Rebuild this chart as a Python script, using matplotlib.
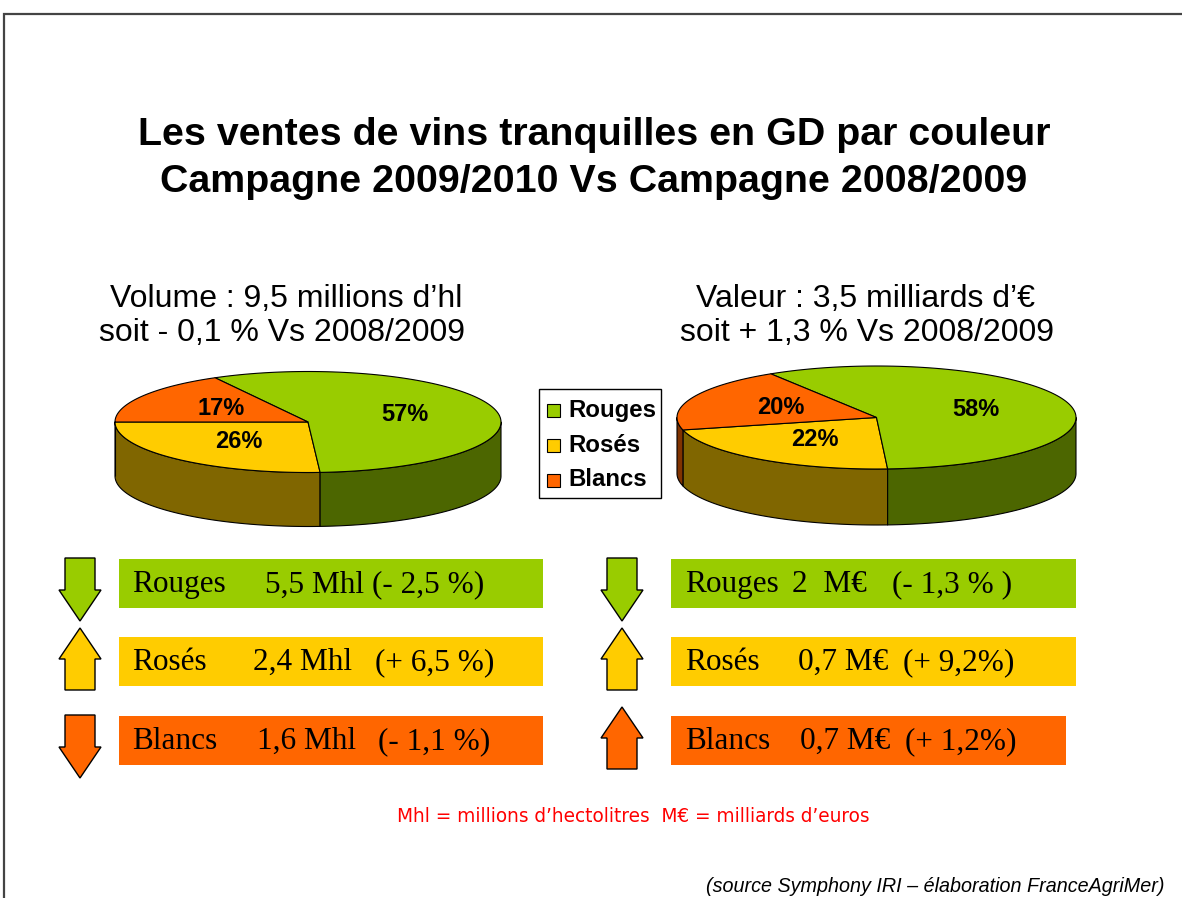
import numpy as np
import matplotlib
matplotlib.use("Agg")
import matplotlib.pyplot as plt
from matplotlib.patches import Polygon, Rectangle

# ---------------- data ----------------
categories = ["Rouges", "Rosés", "Blancs"]
volume_share = [57, 26, 17]          # % of volume
value_share = [58, 22, 20]           # % of value
volume_amount = ["5,5 Mhl", "2,4 Mhl", "1,6 Mhl"]
volume_change_txt = ["(- 2,5 %)", "(+ 6,5 %)", "(- 1,1 %)"]
volume_change = [-2.5, 6.5, -1.1]
value_amount = ["2  M€", "0,7 M€", "0,7 M€"]
value_change_txt = ["(- 1,3 % )", "(+ 9,2%)", "(+ 1,2%)"]
value_change = [-1.3, 9.2, 1.2]

title_lines = ["Les ventes de vins tranquilles en GD par couleur",
               "Campagne 2009/2010 Vs Campagne 2008/2009"]
vol_sub = ["Volume : 9,5 millions d\u2019hl", "soit - 0,1 % Vs 2008/2009"]
val_sub = ["Valeur : 3,5 milliards d\u2019\u20ac", "soit + 1,3 % Vs 2008/2009"]
footnote = "Mhl = millions d\u2019hectolitres  M\u20ac = milliards d\u2019euros"
source = "(source Symphony IRI \u2013 élaboration FranceAgriMer)"

# ---------------- style ----------------
colors = ["#99CC00", "#FFCC00", "#FF6600"]
side_colors = ["#4C6600", "#806600", "#803300"]
SANS = "Liberation Sans"
SERIF = "Liberation Serif"
BOX_FS = 22.5
SUB_FS = 23

W, H = 1182, 898
fig = plt.figure(figsize=(W / 100, H / 100), dpi=100)
ax = fig.add_axes([0, 0, 1, 1])
ax.set_xlim(0, W)
ax.set_ylim(H, 0)
ax.axis("off")

# frame
ax.plot([4, 4, W + 5], [H + 5, 13.5, 13.5], color="#444444", lw=1.6,
        solid_joinstyle="miter", clip_on=False)

# title
ax.text(594, 135, title_lines[0], ha="center", va="center", fontsize=28.4,
        fontweight="bold", family=SANS)
ax.text(594, 182, title_lines[1], ha="center", va="center", fontsize=28.4,
        fontweight="bold", family=SANS)

# subtitles
ax.text(286, 299, vol_sub[0], ha="center", va="center", fontsize=SUB_FS, family=SANS)
ax.text(282, 333, vol_sub[1], ha="center", va="center", fontsize=SUB_FS, family=SANS)
ax.text(866, 299, val_sub[0], ha="center", va="center", fontsize=SUB_FS, family=SANS)
ax.text(867, 333, val_sub[1], ha="center", va="center", fontsize=SUB_FS, family=SANS)


def arc(cx, cy, a, b, t1, t2, dy=0.0, n=120):
    t = np.radians(np.linspace(t1, t2, n))
    return np.column_stack([cx + a * np.cos(t), cy + dy - b * np.sin(t)])


def pie3d(shares, cx, cy, a, b, depth, start):
    # angles: Rosés starts at `start`, counter-clockwise: Rosés, Rouges, Blancs
    order = [1, 0, 2]
    t = start
    spans = {}
    for i in order:
        span = shares[i] * 3.6
        spans[i] = (t, t + span)
        t += span
    # side walls (front half: 180..360 deg, mod 360)
    for i in order:
        t1, t2 = spans[i]
        for k in (0, 360, -360):
            lo = max(t1 + k, 180)
            hi = min(t2 + k, 360)
            if hi > lo:
                top = arc(cx, cy, a, b, lo, hi)
                bot = arc(cx, cy, a, b, hi, lo, dy=depth)
                ax.add_patch(Polygon(np.vstack([top, bot]), closed=True,
                                     facecolor=side_colors[i], edgecolor="black",
                                     lw=0.8, joinstyle="round"))
    # top faces
    for i in order:
        t1, t2 = spans[i]
        pts = np.vstack([[cx, cy], arc(cx, cy, a, b, t1, t2)])
        ax.add_patch(Polygon(pts, closed=True, facecolor=colors[i],
                             edgecolor="black", lw=0.8, joinstyle="round"))
    # labels
    for i in order:
        t1, t2 = spans[i]
        m = np.radians((t1 + t2) / 2)
        ax.text(cx + 0.52 * a * np.cos(m), cy - 0.52 * b * np.sin(m),
                f"{shares[i]}%", ha="center", va="center", fontsize=17,
                fontweight="bold", family=SANS)


pie3d(volume_share, 308, 422, 193, 50.5, 54, 180)
pie3d(value_share, 876.5, 417.5, 199.5, 51.5, 56, 194)

# legend
ax.add_patch(Rectangle((538.5, 388.5), 122, 109, facecolor="white",
                       edgecolor="black", lw=1.0))
for k, name in enumerate(categories):
    y = 410 + 35 * k
    ax.add_patch(Rectangle((547, y - 6.5), 13, 13, facecolor=colors[k],
                           edgecolor="black", lw=0.8))
    ax.text(568, y, name, ha="left", va="center", fontsize=17.3,
            fontweight="bold", family=SANS)


def arrow(xc, y0, y1, color, up):
    # y0 = top, y1 = bottom in pixel coordinates
    hw, sw = 21, 15
    hl = 31
    if up:
        pts = [(xc, y0), (xc + hw, y0 + hl), (xc + sw, y0 + hl), (xc + sw, y1),
               (xc - sw, y1), (xc - sw, y0 + hl), (xc - hw, y0 + hl)]
    else:
        pts = [(xc - sw, y0), (xc + sw, y0), (xc + sw, y1 - hl), (xc + hw, y1 - hl),
               (xc, y1), (xc - hw, y1 - hl), (xc - sw, y1 - hl)]
    ax.add_patch(Polygon(pts, closed=True, facecolor=color, edgecolor="black",
                         lw=1.0, joinstyle="miter"))


def trend_arrow(xc, yt, change, color):
    if change > 0:
        arrow(xc, yt - 9, yt + 53, color, True)
    else:
        arrow(xc, yt - 1, yt + 62, color, False)


box_tops = [559, 637, 716]
box_h = 49
left_box = (119, 543)
right_box_x = 671
right_box_w = [405, 405, 395]
name_x_left, name_x_right = 132, 685
amount_x_left = [265, 253, 257]
amount_x_right = [792, 798, 800]
change_x_left = [None, 375, 378]
change_x_right = [892, 903, 905]

for k in range(3):
    yt = box_tops[k]
    yc = yt + box_h / 2 + 1
    # left (volume)
    ax.add_patch(Rectangle((left_box[0], yt), left_box[1] - left_box[0], box_h,
                           facecolor=colors[k], edgecolor="none"))
    ax.text(name_x_left, yc, categories[k], ha="left", va="center",
            fontsize=BOX_FS, family=SERIF)
    if change_x_left[k] is None:
        ax.text(amount_x_left[k], yc, volume_amount[k] + " " + volume_change_txt[k],
                ha="left", va="center", fontsize=BOX_FS, family=SERIF)
    else:
        ax.text(amount_x_left[k], yc, volume_amount[k], ha="left", va="center",
                fontsize=BOX_FS, family=SERIF)
        ax.text(change_x_left[k], yc, volume_change_txt[k], ha="left", va="center",
                fontsize=BOX_FS, family=SERIF)
    trend_arrow(80, yt, volume_change[k], colors[k])
    # right (value)
    ax.add_patch(Rectangle((right_box_x, yt), right_box_w[k], box_h,
                           facecolor=colors[k], edgecolor="none"))
    ax.text(name_x_right, yc, categories[k], ha="left", va="center",
            fontsize=BOX_FS, family=SERIF)
    ax.text(amount_x_right[k], yc, value_amount[k], ha="left", va="center",
            fontsize=BOX_FS, family=SERIF)
    ax.text(change_x_right[k], yc, value_change_txt[k], ha="left", va="center",
            fontsize=BOX_FS, family=SERIF)
    trend_arrow(622, yt, value_change[k], colors[k])

ax.text(633, 816, footnote, ha="center", va="center", fontsize=13.35,
        color="#FF0000", family="DejaVu Sans")
ax.text(1165, 886, source, ha="right", va="center", fontsize=14.2,
        style="italic", family=SANS)

fig.savefig("out.png", dpi=100, facecolor="white")
